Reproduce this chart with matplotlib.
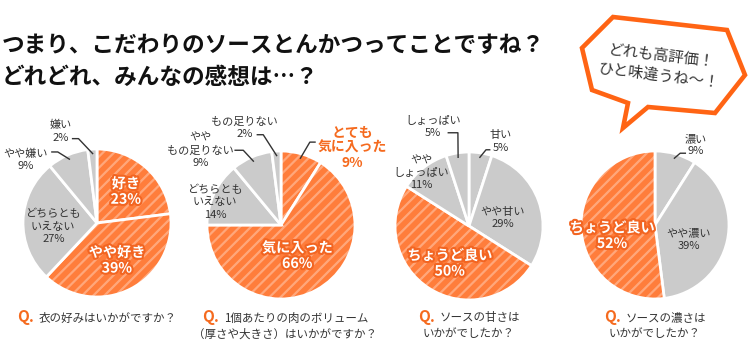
import matplotlib
matplotlib.use("Agg")
import matplotlib.pyplot as plt
from matplotlib.patches import Wedge, Polygon
import matplotlib.patheffects as pe
from matplotlib.lines import Line2D
import numpy as np

plt.rcParams['font.family'] = ['Noto Sans CJK JP', 'DejaVu Sans']
plt.rcParams['hatch.linewidth'] = 1.6

# ---------------- data ----------------
title_lines = ["つまり、こだわりのソースとんかつってことですね？",
               "どれどれ、みんなの感想は…？"]
bubble_text = "どれも高評価！\nひと味違うね〜！"

p1_cats = ["好き", "やや好き", "どちらとも\nいえない", "やや嫌い", "嫌い"]
p1_vals = [23, 39, 27, 9, 2]
p2_cats = ["とても\n気に入った", "気に入った", "どちらとも\nいえない", "やや\nもの足りない", "もの足りない"]
p2_vals = [9, 66, 14, 9, 2]
p3_cats = ["甘い", "やや甘い", "ちょうど良い", "やや\nしょっぱい", "しょっぱい"]
p3_vals = [5, 29, 50, 11, 5]
p4_cats = ["濃い", "やや濃い", "ちょうど良い"]
p4_vals = [9, 39, 52]

q1_lines = ["衣の好みはいかがですか？"]
q2_lines = ["1個あたりの肉のボリューム", "（厚さや大きさ）はいかがですか？"]
q3_lines = ["ソースの甘さは", "いかがでしたか？"]
q4_lines = ["ソースの濃さは", "いかがでしたか？"]

# ---------------- style / layout ----------------
W, H = 748, 360
ORANGE = '#FF7D3B'
GRAY = '#CBCBCB'
TEXT = '#333333'
ACCENT = '#F56A1E'
BUBBLE = '#FF6414'
R = 74

fig = plt.figure(figsize=(W / 100, H / 100), dpi=100)
fig.patch.set_facecolor('white')

def fx(x):
    return x / W

def fy(y):
    return 1 - y / H

# title
for i, line in enumerate(title_lines):
    fig.text(fx(2), fy(46 + 31 * i), line, fontsize=16.3, fontweight='bold',
             color='#111111', ha='left', va='center')

# speech bubble
bubble_pts = [(582, 48), (613, 17), (727, 30), (745, 75), (715, 113),
              (648, 107), (623, 128), (628, 103), (592, 90)]
poly = Polygon([(fx(x), fy(y)) for x, y in bubble_pts], closed=True,
               transform=fig.transFigure, facecolor='white', edgecolor=BUBBLE,
               linewidth=3.3, joinstyle='miter')
fig.add_artist(poly)
fig.text(fx(660), fy(66), bubble_text, fontsize=11, color=TEXT, ha='center',
         va='center', rotation=-7, linespacing=1.25, rotation_mode='anchor')

# pies: (center px, cats, vals, orange idx, label pos, label style, leaders)
pies = [
    dict(c=(97, 223), cats=p1_cats, vals=p1_vals, orange=[0, 1],
         pos=[(0.39, 0.42), (0.27, -0.51), (-0.59, -0.05), (-0.97, 0.85), (-0.49, 1.24)],
         sty=['w', 'w', 'd', 'd', 'd'],
         lead={3: [(-0.61, 0.96), (-0.53, 0.96)], 4: [(-0.33, 1.14), (-0.25, 1.14)]}),
    dict(c=(281, 225), cats=p2_cats, vals=p2_vals, orange=[0, 1],
         pos=[(0.97, 1.04), (0.22, -0.42), (-0.89, 0.31), (-1.09, 1.01), (-0.49, 1.31)],
         sty=['o', 'w', 'd', 'd', 'd'],
         lead={0: [(0.46, 1.12), (0.39, 1.12)], 3: [(-0.62, 1.01), (-0.51, 1.01)],
               4: [(-0.32, 1.22), (-0.24, 1.22)]}),
    dict(c=(469, 226), cats=p3_cats, vals=p3_vals, orange=[2],
         pos=[(0.43, 1.14), (0.46, 0.11), (-0.26, -0.51), (-0.64, 0.72), (-0.49, 1.34)],
         sty=['d', 'd', 'w', 'd', 'd'],
         lead={0: [(0.28, 1.03), (0.23, 1.03)], 4: [(-0.28, 1.26), (-0.15, 1.26)]}),
    dict(c=(655, 225), cats=p4_cats, vals=p4_vals, orange=[2],
         pos=[(0.55, 1.08), (0.46, -0.2), (-0.58, -0.15)],
         sty=['d', 'd', 'w'],
         lead={0: [(0.41, 0.97), (0.34, 0.97)]}),
]

for p in pies:
    cx, cy = p['c']
    ax = fig.add_axes([fx(cx - R), fy(cy + R), 2 * R / W, 2 * R / H])
    cols = [ORANGE if i in p['orange'] else GRAY for i in range(len(p['vals']))]
    wedges, _ = ax.pie(p['vals'], startangle=90, counterclock=False, colors=cols,
                       radius=1, wedgeprops=dict(edgecolor='white', linewidth=2))
    ax.set_xlim(-1, 1)
    ax.set_ylim(-1, 1)
    ax.axis('off')
    for i in p['orange']:
        w = wedges[i]
        ax.add_patch(Wedge((0, 0), 1, w.theta1, w.theta2, facecolor='none',
                           edgecolor=(1, 1, 1, 0.33), linewidth=0, hatch='///'))
    for i, (cat, val) in enumerate(zip(p['cats'], p['vals'])):
        lx, ly = p['pos'][i]
        s = p['sty'][i]
        txt = f"{cat}\n{val}%"
        if s == 'w':
            t = ax.text(lx, ly, txt, ha='center', va='center', fontsize=10.2,
                        fontweight='bold', color='white', linespacing=1.15)
            t.set_path_effects([pe.withStroke(linewidth=3, foreground='#F26522')])
        elif s == 'o':
            ax.text(lx, ly, txt, ha='center', va='center', fontsize=10,
                    fontweight='bold', color=ACCENT, linespacing=1.1)
        else:
            ax.text(lx, ly, txt, ha='center', va='center', fontsize=8,
                    color=TEXT, linespacing=1.3)
        if i in p['lead']:
            w = wedges[i]
            mid = np.deg2rad((w.theta1 + w.theta2) / 2)
            ex, ey = 0.94 * np.cos(mid), 0.94 * np.sin(mid)
            (sx, sy), (bx, by) = p['lead'][i]
            ax.add_line(Line2D([sx, bx, ex], [sy, by, ey], color=TEXT,
                               linewidth=1, clip_on=False))

# questions
fig.canvas.draw()
renderer = fig.canvas.get_renderer()
q_centers = [97, 285, 469, 655]
for cx, lines in zip(q_centers, [q1_lines, q2_lines, q3_lines, q4_lines]):
    q = fig.text(0, fy(317), "Q.", fontsize=11, fontweight='bold', color=ACCENT,
                 ha='left', va='center')
    t = fig.text(0, fy(318), lines[0], fontsize=8.3, color=TEXT, ha='left', va='center')
    wq = q.get_window_extent(renderer).width
    wt = t.get_window_extent(renderer).width
    gap = 5
    x0 = cx - (wq + gap + wt) / 2
    q.set_x(fx(x0))
    t.set_x(fx(x0 + wq + gap))
    for j, line in enumerate(lines[1:]):
        fig.text(fx(cx), fy(334 + 16 * j), line, fontsize=8.3, color=TEXT,
                 ha='center', va='center')

fig.savefig('out.png', dpi=100, facecolor='white')
